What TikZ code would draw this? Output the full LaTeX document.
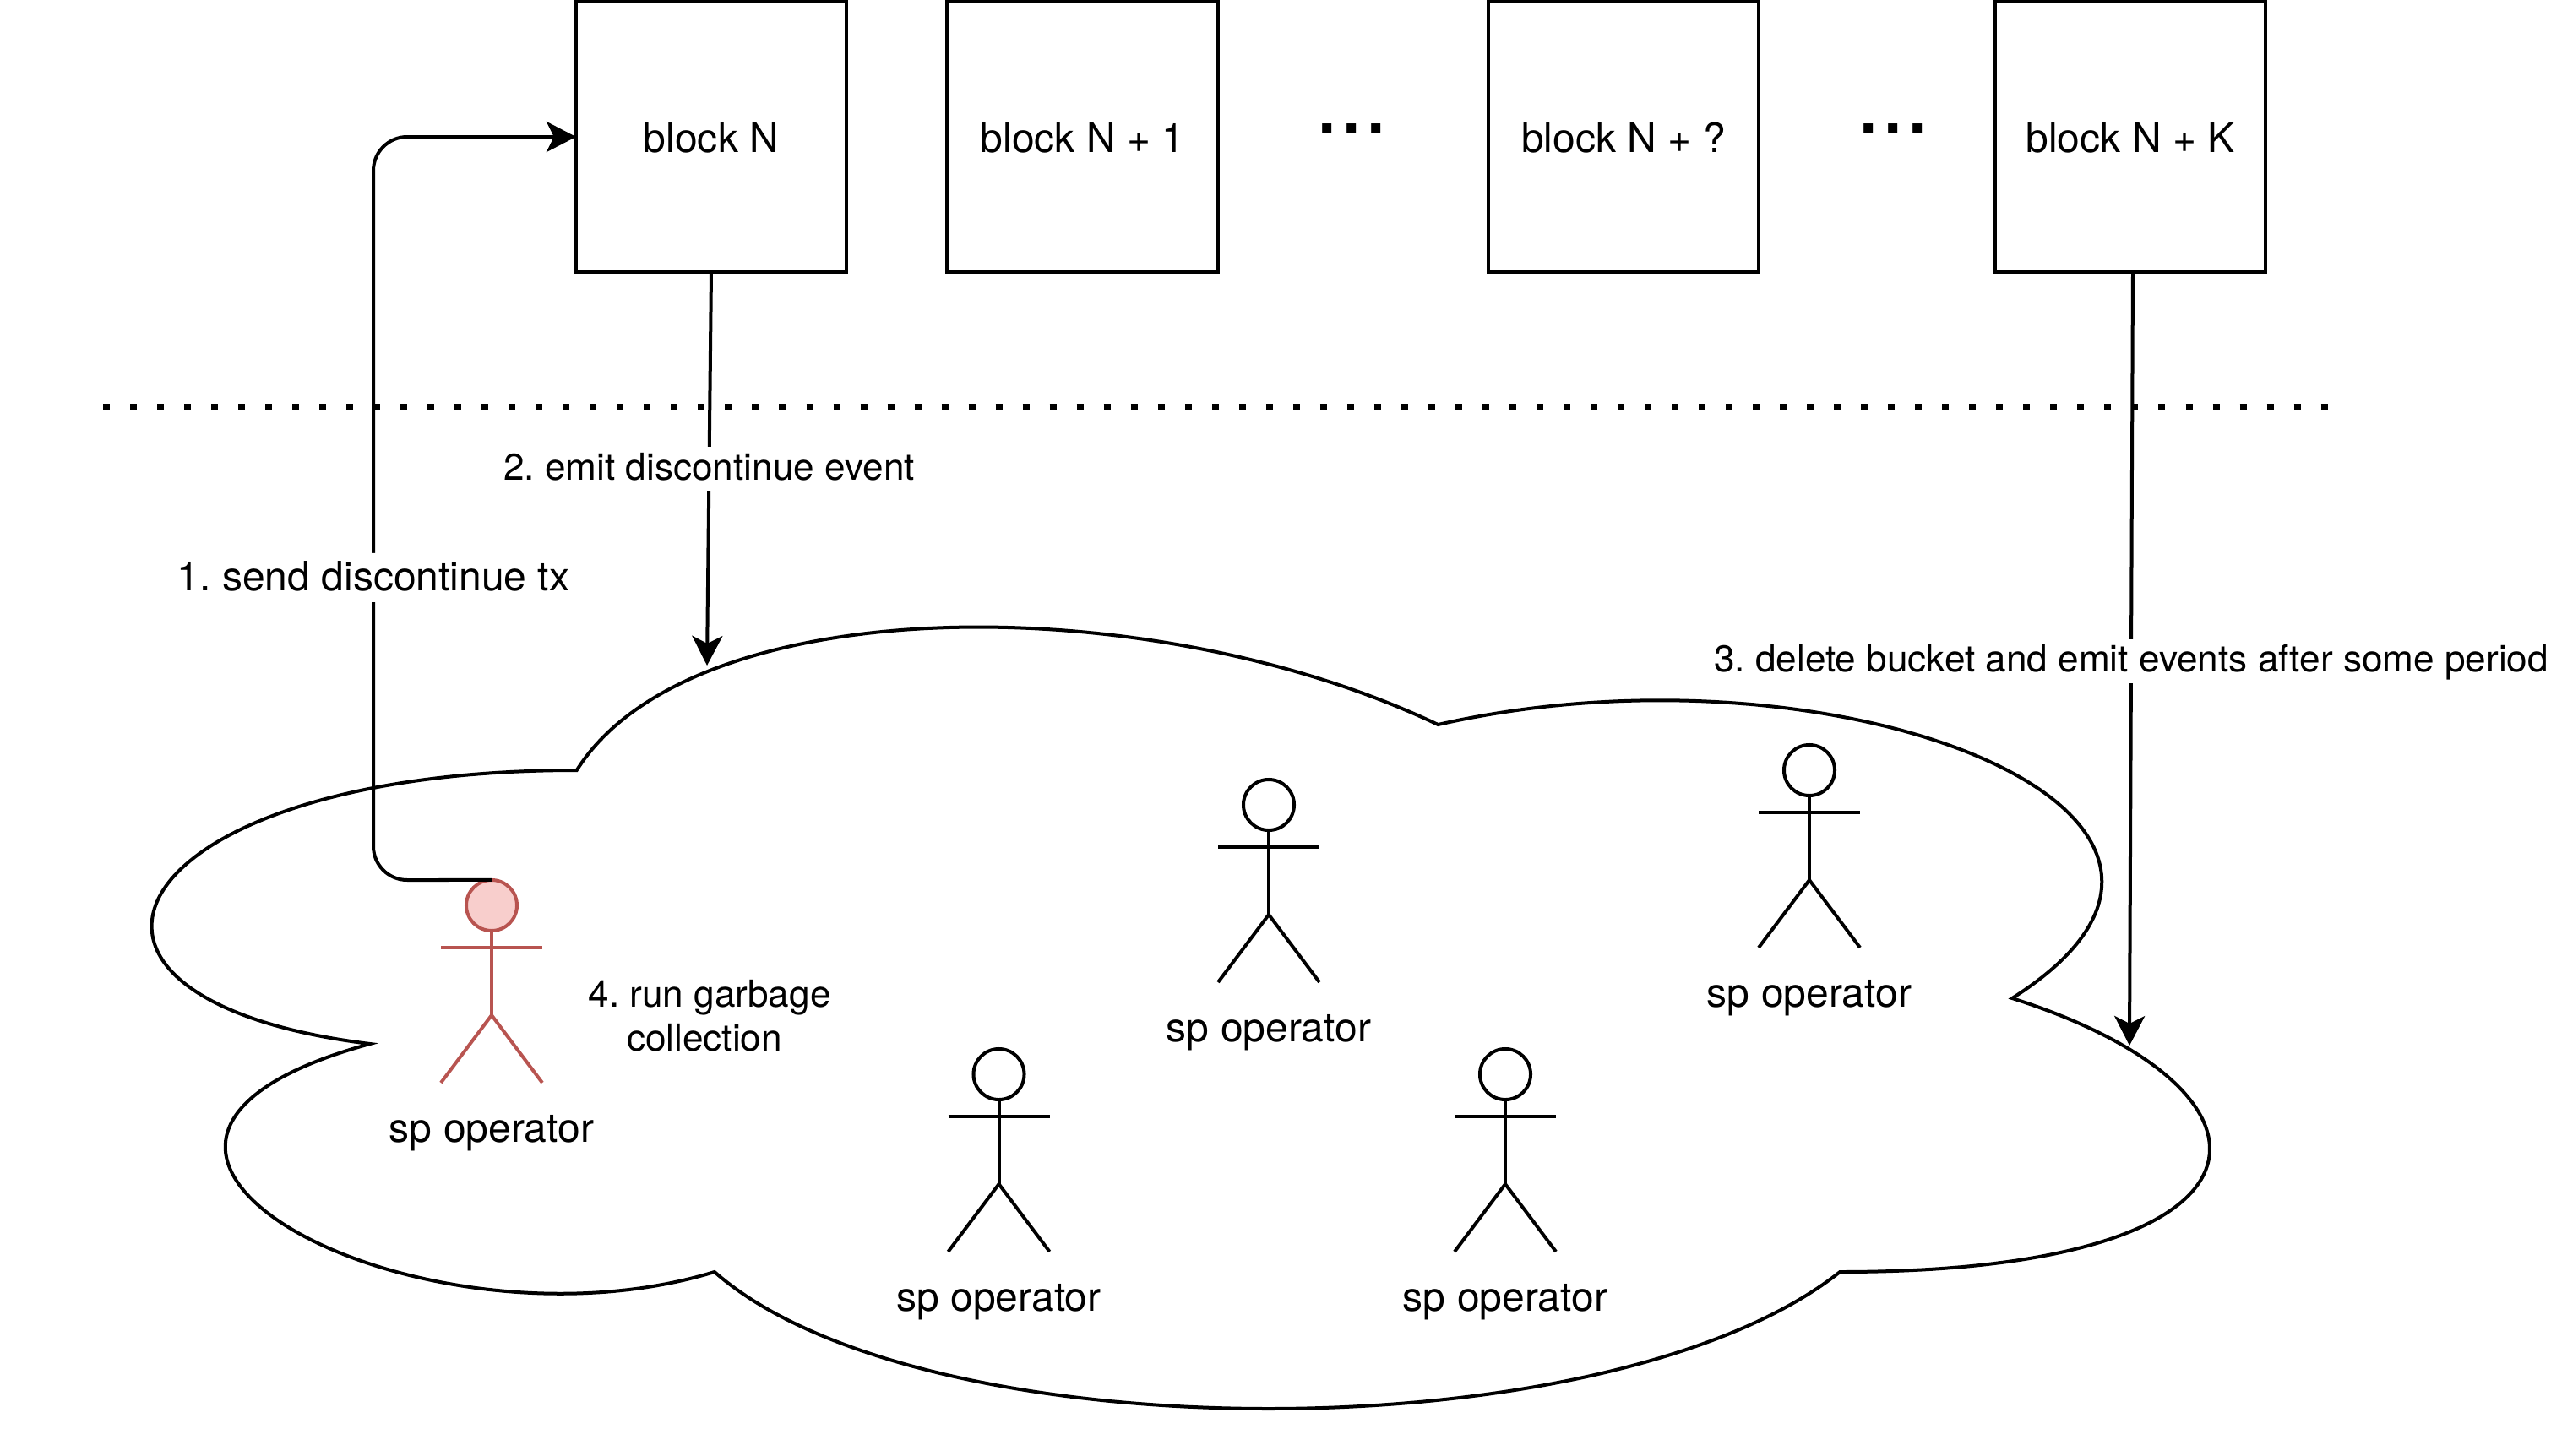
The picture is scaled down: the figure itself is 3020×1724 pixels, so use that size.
\documentclass[tikz,border=0pt]{standalone}
\usepackage{fontspec}
\setmainfont{TeX Gyre Heros}
\usetikzlibrary{arrows.meta}
\definecolor{redline}{HTML}{B85450}
\definecolor{redfill}{HTML}{F8CECC}
\frenchspacing
\newcommand{\bigtext}{\fontsize{13.65}{16}\selectfont}
\newcommand{\smalltext}{\fontsize{12.55}{14.74}\selectfont}
\tikzset{
  blockbox/.style={rectangle,draw,outer sep=0pt,minimum width=3.2cm,minimum height=3.2cm,
    inner sep=0pt,font=\bigtext,text height=.45cm,text depth=.09cm},
  biglabel/.style={fill=white,inner sep=0pt,font=\bigtext,text height=.45cm,text depth=.13cm},
  smalllabel/.style={fill=white,inner sep=0pt,font=\smalltext,text height=.39cm,text depth=.13cm},
  dotstext/.style={inner sep=0pt,font=\fontsize{30}{32}\selectfont},
  pics/operator/.style 2 args={code={
    \node (-head) at (0,30) [circle,draw=#1,fill=#2,minimum size=.6cm,inner sep=0pt,outer sep=0pt] {};
    \draw[draw=#1] (-head) -- (0,160);
    \draw[draw=#1] (-60,80) -- (60,80);
    \draw[draw=#1] (-60,240) -- (0,160) -- (60,240);
    \node (-name) at (0,294) [biglabel,fill=none] {sp operator};
  }}
}
\begin{document}
\begin{tikzpicture}[x=0.01cm,y=-0.01cm,line width=.04cm,>={Stealth[length=.35cm,width=.36cm,inset=.09cm]}]
   \useasboundingbox (0,0) rectangle (3020,1724);
   % cloud
   \draw (682.75,912) .. controls (138.95,912) and (3,1182) .. (438.04,1236)
      .. controls (3,1354.8) and (492.42,1614) .. (845.89,1506)
      .. controls (1090.6,1722) and (1906.3,1722) .. (2178.2,1506)
      .. controls (2722,1506) and (2722,1290) .. (2382.1,1182)
      .. controls (2722,966) and (2178.2,750) .. (1702.4,858)
      .. controls (1362.5,696) and (818.7,696) .. cycle;
   % blocks
   \node (blockN) at (842,162) [blockbox] {block N};
   \node (blockN1) at (1281.5,162) [blockbox] {block N + 1};
   \node (blockNq) at (1922,162) [blockbox] {block N + ?};
   \node (blockNK) at (2522,162) [blockbox] {block N + K};
   \node (dotsA) at (1600,152) [dotstext] {...};
   \node (dotsB) at (2241,152) [dotstext] {...};
   % divider
   \coordinate (divleft) at (122,482);
   \coordinate (divright) at (2758,482);
   \draw[line width=.08cm,dash pattern=on .08cm off .24cm] (divleft) -- (divright);
   % operators
   \pic (opred) at (582,1042) {operator={redline}{redfill}};
   \pic (opmid) at (1502,923) {operator={black}{white}};
   \pic (opright) at (2142,882) {operator={black}{white}};
   \pic (opleft) at (1182.5,1242) {operator={black}{white}};
   \pic (opbottom) at (1782,1242) {operator={black}{white}};
   \node (gc) at (834,1203) [font=\smalltext,align=center,inner sep=0pt] {\hspace*{.278em}4. run garbage\\collection};
   % connectors
   \coordinate (bendlow) at (442,1042);
   \coordinate (bendhigh) at (442,162);
   \coordinate (cloudtop) at (837,788);
   \coordinate (cloudright) at (2521,1238);
   \draw[->,rounded corners=.4cm] (opred-head.north) -- (bendlow) -- node[pos=.407,biglabel] {1. send discontinue tx} (bendhigh) -- (blockN.west);
   \draw[->] (blockN.south) to node[smalllabel] {2. emit discontinue event} (cloudtop);
   \draw[->] ([xshift=.03cm]blockNK.south) to node[pos=.503,smalllabel] {3. delete bucket and emit events after some period} (cloudright);
\end{tikzpicture}
\end{document}
